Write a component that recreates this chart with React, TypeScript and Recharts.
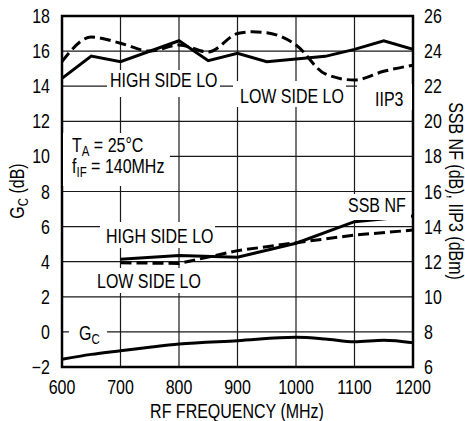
import React from 'react';
import {
  LineChart,
  Line,
  XAxis,
  YAxis,
  CartesianGrid,
  ReferenceArea,
} from 'recharts';

// frequencies (MHz) and values
const FREQ_TICKS = [600, 700, 800, 900, 1000, 1100, 1200];
const GC_TICKS = [-2, 0, 2, 4, 6, 8, 10, 12, 14, 16, 18];
const RIGHT_TICKS = [6, 8, 10, 12, 14, 16, 18, 20, 22, 24, 26];

// conversion gain, dB (left axis)
const GC_FREQ = [600, 650, 700, 750, 800, 900, 1000, 1050, 1100, 1150, 1200];
const GC_VALUES = [-1.56, -1.28, -1.07, -0.87, -0.69, -0.5, -0.31, -0.4, -0.56, -0.48, -0.62];

// IIP3, dBm (right axis)
const IIP3_HIGH_FREQ = [600, 650, 700, 800, 850, 900, 950, 1000, 1050, 1100, 1150, 1200];
const IIP3_HIGH = [22.45, 23.72, 23.4, 24.59, 23.45, 23.87, 23.4, 23.55, 23.7, 24.1, 24.58, 24.1];
const IIP3_LOW_FREQ = [600, 650, 700, 750, 800, 850, 900, 925, 950, 1000, 1050, 1100, 1150, 1200];
const IIP3_LOW = [23.4, 24.8, 24.45, 24.0, 24.35, 23.95, 25.0, 25.1, 25.05, 24.35, 22.7, 22.35, 22.85, 23.2];

// SSB noise figure, dB (right axis)
const NF_FREQ = [700, 800, 900, 1000, 1100, 1200];
const NF_HIGH = [12.14, 12.36, 12.25, 13.05, 14.28, 14.6];
const NF_LOW = [11.94, 11.9, 12.63, 13.08, 13.52, 13.8];

// no condensed face installed, so squeeze Liberation Sans horizontally
const FONT = '"Liberation Sans", Arial, sans-serif';
const FS = 19.5;
const SX = 0.82;

const toRows = (freq: number[], vals: number[]) => freq.map((f, i) => ({ f, v: vals[i] }));

const gcData = toRows(GC_FREQ, GC_VALUES);
const iip3HighData = toRows(IIP3_HIGH_FREQ, IIP3_HIGH);
const iip3LowData = toRows(IIP3_LOW_FREQ, IIP3_LOW);
const nfHighData = toRows(NF_FREQ, NF_HIGH);
const nfLowData = toRows(NF_FREQ, NF_LOW);

const minus = (v: number) => (v < 0 ? `\u2212${Math.abs(v)}` : `${v}`);

function CondText({
  x,
  y,
  anchor = 'start',
  rotate = 0,
  children,
}: {
  x: number;
  y: number;
  anchor?: 'start' | 'middle' | 'end';
  rotate?: number;
  children: React.ReactNode;
}) {
  return (
    <text
      transform={`translate(${x},${y}) rotate(${rotate}) scale(${SX},1)`}
      textAnchor={anchor}
      fontFamily={FONT}
      fontSize={FS}
      fill="#000"
    >
      {children}
    </text>
  );
}

function Sub({ children }: { children: React.ReactNode }) {
  return (
    <tspan dy={4} fontSize={14}>
      {children}
    </tspan>
  );
}

// white box behind a note so the grid breaks around it
function Note({ box, children }: { box: [number, number, number, number]; children: React.ReactNode }) {
  const [x, y, w, h] = box;
  return (
    <g>
      <rect x={x} y={y} width={w} height={h} fill="#fff" />
      {children}
    </g>
  );
}

const leftTick = (p: any) => (
  <CondText x={p.x} y={p.y + FS * 0.36} anchor="end">
    {minus(p.payload.value)}
  </CondText>
);
const rightTick = (p: any) => (
  <CondText x={p.x} y={p.y + FS * 0.36}>
    {p.payload.value}
  </CondText>
);
const bottomTick = (p: any) => (
  <CondText x={p.x} y={p.y + FS * 0.72} anchor="middle">
    {p.payload.value}
  </CondText>
);

export default function App() {
  return (
    <div style={{ position: 'absolute', left: 0, top: 0, width: 465, height: 421, background: '#fff' }}>
      <LineChart
        width={465}
        height={421}
        margin={{ top: 16, right: 0, bottom: 0, left: 0 }}
      >
        <CartesianGrid yAxisId="left" stroke="#1a1a1a" strokeWidth={1.2} />
        <XAxis
          dataKey="f"
          type="number"
          domain={[600, 1200]}
          ticks={FREQ_TICKS}
          allowDataOverflow
          height={54}
          axisLine={false}
          tickLine={false}
          tickSize={0}
          tickMargin={13}
          tick={bottomTick}
          interval={0}
        />
        <YAxis
          yAxisId="left"
          type="number"
          domain={[-2, 18]}
          ticks={GC_TICKS}
          allowDataOverflow
          width={62}
          axisLine={false}
          tickLine={false}
          tickSize={0}
          tickMargin={12}
          tick={leftTick}
          interval={0}
        />
        <YAxis
          yAxisId="right"
          orientation="right"
          type="number"
          domain={[6, 26]}
          ticks={RIGHT_TICKS}
          allowDataOverflow
          width={52}
          axisLine={false}
          tickLine={false}
          tickSize={0}
          tickMargin={11}
          tick={rightTick}
          interval={0}
        />
        <ReferenceArea
          yAxisId="left"
          x1={600}
          x2={1200}
          y1={-2}
          y2={18}
          fill="none"
          stroke="#000"
          strokeWidth={2.5}
          fillOpacity={0}
        />
        <Line yAxisId="left" data={gcData} dataKey="v" type="monotone" stroke="#000" strokeWidth={3} dot={false} isAnimationActive={false} />
        <Line yAxisId="right" data={iip3HighData} dataKey="v" type="linear" stroke="#000" strokeWidth={3} dot={false} isAnimationActive={false} />
        <Line yAxisId="right" data={iip3LowData} dataKey="v" type="monotone" stroke="#000" strokeWidth={3} strokeDasharray="11 5" dot={false} isAnimationActive={false} />
        <Line yAxisId="right" data={nfHighData} dataKey="v" type="linear" stroke="#000" strokeWidth={3} dot={false} isAnimationActive={false} />
        <Line yAxisId="right" data={nfLowData} dataKey="v" type="linear" stroke="#000" strokeWidth={3} strokeDasharray="11 5" dot={false} isAnimationActive={false} />
      </LineChart>

      <svg
        width={465}
        height={421}
        style={{ position: 'absolute', left: 0, top: 0, pointerEvents: 'none' }}
      >
        <Note box={[107, 70, 113, 27]}>
          <CondText x={110} y={87}>HIGH SIDE LO</CondText>
        </Note>
        <Note box={[233, 81, 113, 26]}>
          <CondText x={240} y={103}>LOW SIDE LO</CondText>
        </Note>
        <Note box={[357, 84, 55, 26]}>
          <CondText x={375} y={106}>IIP3</CondText>
        </Note>
        <Note box={[63, 133, 107, 53]}>
          <CondText x={72} y={152}>
            T<Sub>A</Sub>
            <tspan dy={-4}> = 25°C</tspan>
          </CondText>
          <CondText x={72} y={173}>
            f<Sub>IF</Sub>
            <tspan dy={-4}> = 140MHz</tspan>
          </CondText>
        </Note>
        <Note box={[345, 194, 66, 26]}>
          <CondText x={348} y={212}>SSB NF</CondText>
        </Note>
        <Note box={[100, 222, 115, 26]}>
          <CondText x={106} y={243}>HIGH SIDE LO</CondText>
        </Note>
        <Note box={[94, 268, 106, 25]}>
          <CondText x={97} y={288}>LOW SIDE LO</CondText>
        </Note>
        <Note box={[69, 322, 38, 26]}>
          <CondText x={79} y={340}>
            G<Sub>C</Sub>
          </CondText>
        </Note>

        <CondText x={24} y={191} rotate={-90} anchor="middle">
          G<Sub>C</Sub>
          <tspan dy={-4}> (dB)</tspan>
        </CondText>
        <CondText x={449} y={191} rotate={90} anchor="middle">
          SSB NF (dB), IIP3 (dBm)
        </CondText>
        <CondText x={237} y={418} anchor="middle">
          RF FREQUENCY (MHz)
        </CondText>
      </svg>
    </div>
  );
}
